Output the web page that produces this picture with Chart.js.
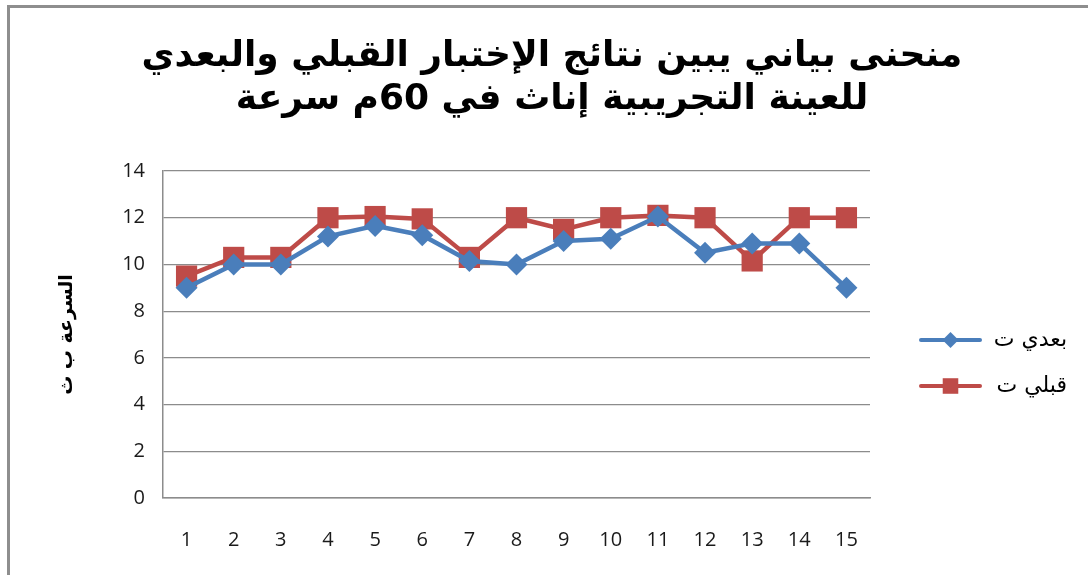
<!DOCTYPE html>
<html lang="ar">
<head>
    <meta charset="UTF-8">
    <title>منحنى بياني</title>
    <script src="https://cdn.jsdelivr.net/npm/chart.js@4.4.0/dist/chart.umd.min.js"></script>
    <style>
        body {
            margin: 0;
            padding: 0;
            background-color: white;
        }
        .chart-box {
            width: 1088px;
            height: 575px;
        }
    </style>
</head>
<body>
<div class="chart-box">
    <canvas id="speedChart" width="1088" height="575"></canvas>
</div>
<script>
    // Data
    const labels = ['1', '2', '3', '4', '5', '6', '7', '8', '9', '10', '11', '12', '13', '14', '15'];
    const afterValues = [9.0, 10.0, 10.0, 11.2, 11.65, 11.25, 10.15, 10.0, 11.0, 11.1, 12.05, 10.5, 10.9, 10.9, 9.0];
    const beforeValues = [9.5, 10.3, 10.3, 12.0, 12.05, 11.95, 10.3, 12.0, 11.5, 12.0, 12.1, 12.0, 10.15, 12.0, 12.0];
    const seriesNames = ['بعدي ت', 'قبلي ت'];
    const titleLines = ['منحنى بياني يبين نتائج الإختبار القبلي والبعدي', 'للعينة التجريبية إناث في 60م سرعة'];
    const yTitle = 'السرعة ب ث';

    const blue = '#4A7EBB';
    const red = '#BE4B48';
    const gridGray = '#8C8C8C';
    const arabicFont = '"DejaVu Sans", "Liberation Sans", sans-serif';

    // Frame border (top and left) like the cropped Excel chart
    const framePlugin = {
        id: 'frame',
        beforeDraw(chart) {
            const ctx = chart.ctx;
            ctx.save();
            ctx.fillStyle = 'white';
            ctx.fillRect(0, 0, chart.width, chart.height);
            ctx.strokeStyle = '#8E8E8E';
            ctx.lineWidth = 3;
            ctx.beginPath();
            ctx.moveTo(8.5, chart.height);
            ctx.lineTo(8.5, 6.5);
            ctx.lineTo(chart.width, 6.5);
            ctx.stroke();
            ctx.restore();
        }
    };

    // Two line title, centred over the whole picture
    const bigTitle = {
        id: 'bigTitle',
        afterDraw(chart) {
            const ctx = chart.ctx;
            ctx.save();
            ctx.fillStyle = '#000';
            ctx.font = 'bold 36px ' + arabicFont;
            ctx.textAlign = 'center';
            ctx.textBaseline = 'middle';
            ctx.direction = 'rtl';
            ctx.fillText(titleLines[0], 552, 57);
            ctx.fillText(titleLines[1], 552, 100);
            ctx.restore();
        }
    };

    // Legend drawn at the right, line with marker and text
    const sideLegend = {
        id: 'sideLegend',
        afterDraw(chart) {
            const ctx = chart.ctx;
            const rows = [340, 386];
            ctx.save();
            chart.data.datasets.forEach((ds, i) => {
                const y = rows[i];
                ctx.strokeStyle = ds.borderColor;
                ctx.lineWidth = 4;
                ctx.lineCap = 'round';
                ctx.beginPath();
                ctx.moveTo(921, y);
                ctx.lineTo(980, y);
                ctx.stroke();
                ctx.fillStyle = ds.backgroundColor;
                Chart.helpers.drawPoint(ctx, {
                    pointStyle: ds.pointStyle,
                    radius: ds.pointStyle === 'rect' ? 11 : 8,
                    borderWidth: 0
                }, 950.5, y);
                ctx.fillStyle = '#000';
                ctx.font = '22px ' + arabicFont;
                ctx.textAlign = 'right';
                ctx.textBaseline = 'middle';
                ctx.direction = 'rtl';
                ctx.fillText(ds.label, 1067, y);
            });
            ctx.restore();
        }
    };

    new Chart(document.getElementById('speedChart').getContext('2d'), {
        type: 'line',
        data: {
            labels: labels,
            datasets: [{
                label: seriesNames[0],
                data: afterValues,
                borderColor: blue,
                backgroundColor: blue,
                borderWidth: 4.5,
                pointStyle: 'rectRot',
                pointRadius: 11,
                pointBorderWidth: 0,
                tension: 0
            }, {
                label: seriesNames[1],
                data: beforeValues,
                borderColor: red,
                backgroundColor: red,
                borderWidth: 4.5,
                pointStyle: 'rect',
                pointRadius: 15,
                pointBorderWidth: 0,
                tension: 0
            }]
        },
        options: {
            responsive: false,
            animation: false,
            layout: {
                padding: { left: 50, right: 218, top: 171, bottom: 25 }
            },
            plugins: {
                legend: { display: false },
                tooltip: { enabled: false },
                title: { display: false }
            },
            scales: {
                x: {
                    offset: true,
                    afterFit(scale) { scale.height = 52; },
                    grid: { display: false, drawTicks: false },
                    border: { display: true, color: gridGray, width: 1.5 },
                    ticks: {
                        padding: 30,
                        color: '#1a1a1a',
                        font: { family: '"Open Sans", sans-serif', size: 20 }
                    }
                },
                y: {
                    min: 0,
                    max: 14,
                    afterFit(scale) { scale.width = 113; },
                    grid: { color: gridGray, lineWidth: 1.2, drawTicks: false },
                    border: { display: true, color: gridGray, width: 1.5 },
                    ticks: {
                        stepSize: 2,
                        padding: 18,
                        color: '#1a1a1a',
                        font: { family: '"Open Sans", sans-serif', size: 20 }
                    },
                    title: {
                        display: true,
                        text: yTitle,
                        color: '#000',
                        padding: { top: 6, bottom: 0 },
                        font: { family: arabicFont, size: 19, weight: 'bold' }
                    }
                }
            }
        },
        plugins: [framePlugin, bigTitle, sideLegend]
    });
</script>
</body>
</html>
